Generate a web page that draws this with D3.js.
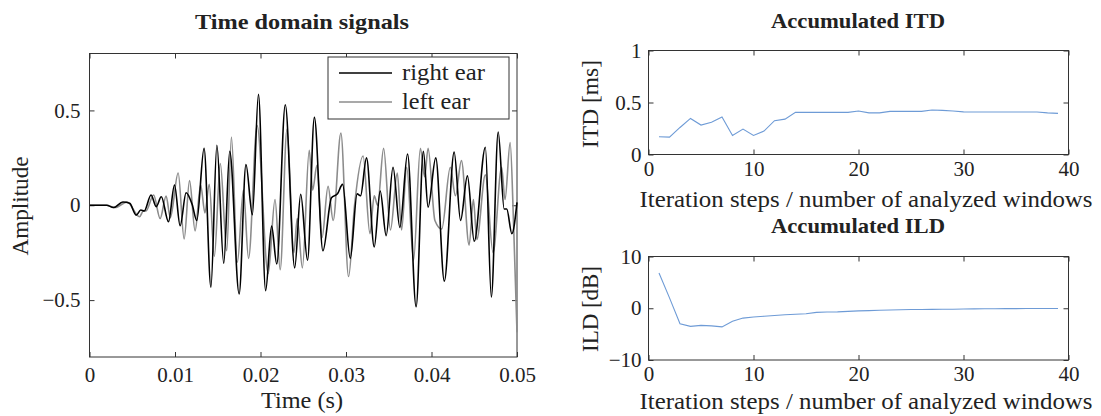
<!DOCTYPE html>
<html><head><meta charset="utf-8">
<script src="https://cdn.jsdelivr.net/npm/d3@7"></script>
<style>
html,body{margin:0;padding:0;background:#fff;}
svg text{font-family:"Liberation Serif","DejaVu Serif",serif;fill:#222;}
</style></head>
<body><svg id="c" width="1101" height="416"></svg>
<script>
// ---- data ----
// Time domain signals (time in ms, amplitude)
const rightTime = [0,2.0,2.8,3.9,4.7,5.46,6.0,6.4,7.2,7.8,8.4,9.24,9.94,10.6,11.3,12.0,12.55,13.4,14.2,14.9,15.7,16.4,17.5,18.3,19.05,19.76,20.6,21.3,21.9,22.9,24.0,24.7,25.5,26.3,27.3,28.3,29.0,29.6,30.5,31.3,31.7,32.4,33.3,34.0,34.7,35.5,36.3,37.2,38.2,39.05,39.6,40.5,41.5,42.65,43.4,44.2,45.0,46.3,47.0,47.8,48.5,48.8,49.4,50.0];
const rightAmp  = [0,0,-0.012,0.017,0.01,-0.052,-0.025,-0.03,0.054,-0.007,0.045,-0.087,0.107,-0.108,0.066,0.005,-0.08,0.30,-0.432,0.316,-0.306,0.285,-0.467,0.215,-0.05,0.585,-0.45,-0.11,-0.31,0.53,-0.33,0.058,-0.29,0.463,-0.24,0.04,0.06,0.11,-0.28,0.06,0.05,0.25,-0.22,0.075,-0.16,0.20,-0.117,0.27,-0.535,0.285,-0.01,0.25,-0.40,0.28,-0.08,0.155,-0.19,0.306,-0.484,0.386,-0.02,-0.02,-0.15,0.015];
const leftTime = [0,2.0,3.0,4.4,5.85,6.3,6.6,7.5,8.26,8.96,9.45,10.37,11.07,11.7,12.35,13.0,13.5,14.0,14.6,15.3,16.05,16.6,17.3,18.0,18.6,19.6,20.9,21.7,22.3,23.1,23.9,24.3,24.9,25.7,26.1,26.6,27.2,27.9,28.5,29.4,30.3,31.0,32.0,32.8,33.3,33.7,34.4,35.2,36.0,36.5,37.1,37.9,38.7,39.2,39.6,40.4,41.2,42.2,42.8,43.5,44.4,44.9,45.3,46.3,47.2,48.2,48.6,49.2,49.6,50.0];
const leftAmp  = [0,0,-0.012,0.017,-0.061,-0.03,-0.03,0.054,-0.07,0.049,-0.065,0.17,-0.178,0.13,-0.135,0.107,-0.04,0.11,-0.27,0.22,-0.24,0.36,-0.30,0.08,-0.28,0.42,-0.36,0.03,-0.34,0.40,-0.25,-0.07,-0.33,0.29,0.08,0.21,-0.17,0.10,-0.08,0.38,-0.376,0.0,0.26,-0.15,0.05,0.0,0.30,-0.13,0.17,-0.13,0.20,-0.29,0.30,0.15,0.30,-0.08,-0.125,0.20,0.05,0.235,-0.21,0.03,-0.18,0.16,-0.25,0.20,0.03,0.33,-0.1,-0.67];
// Accumulated ITD / ILD per iteration step
const steps = d3.range(1,40);
const itdValues = [0.17,0.167,0.26,0.347,0.283,0.31,0.36,0.183,0.244,0.183,0.225,0.325,0.34,0.405,0.405,0.405,0.405,0.405,0.405,0.418,0.40,0.40,0.415,0.415,0.415,0.415,0.428,0.424,0.418,0.41,0.408,0.408,0.408,0.408,0.408,0.408,0.408,0.40,0.395];
const ildValues = [6.8,2.0,-3.0,-3.5,-3.3,-3.4,-3.6,-2.5,-1.9,-1.7,-1.55,-1.4,-1.25,-1.15,-1.05,-0.8,-0.72,-0.7,-0.6,-0.5,-0.45,-0.4,-0.35,-0.3,-0.25,-0.25,-0.22,-0.2,-0.18,-0.15,-0.12,-0.1,-0.1,-0.08,-0.08,-0.06,-0.06,-0.05,-0.05];
const timeTicks = [0,0.01,0.02,0.03,0.04,0.05];
const ampTicks = [-0.5,0,0.5];
const stepTicks = [0,10,20,30,40];
const itdTicks = [0,0.5,1];
const ildTicks = [-10,0,10];
const legendLabels = ["right ear","left ear"];

const svg = d3.select("#c");
const FS = 21;
const frameColor = "#333";

function fitText(sel, w){
  sel.attr("textLength", w).attr("lengthAdjust","spacingAndGlyphs");
}

function panel(o){
  const g = svg.append("g");
  const x = d3.scaleLinear(o.xd,[o.l,o.r]);
  const y = d3.scaleLinear(o.yd,[o.b,o.t]);
  const tl = 5;
  const gb = g.append("g").attr("transform",`translate(0,${o.b})`)
    .call(d3.axisBottom(x).tickValues(o.xt).tickSizeInner(-tl).tickSizeOuter(0).tickPadding(o.xpad).tickFormat(o.xf));
  const gt = g.append("g").attr("transform",`translate(0,${o.t})`)
    .call(d3.axisTop(x).tickValues(o.xt).tickSizeInner(-tl).tickSizeOuter(0).tickFormat(""));
  const gl = g.append("g").attr("transform",`translate(${o.l},0)`)
    .call(d3.axisLeft(y).tickValues(o.yt).tickSizeInner(-tl).tickSizeOuter(0).tickPadding(o.ypad).tickFormat(o.yf));
  const gr = g.append("g").attr("transform",`translate(${o.r},0)`)
    .call(d3.axisRight(y).tickValues(o.yt).tickSizeInner(-tl).tickSizeOuter(0).tickFormat(""));
  [gb,gt,gl,gr].forEach(a=>{
    a.select(".domain").remove();
    a.selectAll("line").attr("stroke",frameColor);
    a.selectAll("text").attr("font-size",FS).attr("font-family",'"Liberation Serif",serif').attr("fill","#222");
  });
  gb.selectAll("text").attr("dy","0.72em");
  g.append("rect").attr("x",o.l).attr("y",o.t).attr("width",o.r-o.l).attr("height",o.b-o.t)
    .attr("fill","none").attr("stroke",frameColor).attr("stroke-width",1);
  fitText(svg.append("text").attr("x",o.titleX).attr("y",o.titleY).attr("text-anchor","middle")
    .attr("font-size",o.titleFS).attr("font-weight","bold").attr("fill","#111").text(o.title), o.titleW);
  fitText(svg.append("text").attr("x",o.xlX).attr("y",o.xlY).attr("text-anchor","middle")
    .attr("font-size",o.labFS).text(o.xlabel), o.xlW);
  fitText(svg.append("text").attr("transform",`translate(${o.ylX},${o.ylY}) rotate(-90)`).attr("text-anchor","middle")
    .attr("font-size",o.labFS).text(o.ylabel), o.ylW);
  return {g,x,y};
}

// Left panel
const L = panel({l:89.5,r:517,t:53.5,b:357,xd:[0,0.05],yd:[-0.8,0.8],xt:timeTicks,yt:ampTicks,
  xf:d=>d===0?"0":d3.format(".2f")(d), yf:d=>d===0?"0":d3.format(".1f")(d).replace("-","\u2212"),
  xpad:10, ypad:9, title:"Time domain signals", titleX:302, titleY:29, titleFS:22, titleW:214,
  xlabel:"Time (s)", xlX:302, xlY:408, xlW:82, ylabel:"Amplitude", ylX:28, ylY:206, ylW:99, labFS:24});
const lineL = d3.line().curve(d3.curveMonotoneX);
L.g.append("path").attr("d",lineL(leftTime.map((t,i)=>[L.x(t/1000),L.y(leftAmp[i])])))
  .attr("fill","none").attr("stroke","#8c8c8c").attr("stroke-width",1.6);
L.g.append("path").attr("d",lineL(rightTime.map((t,i)=>[L.x(t/1000),L.y(rightAmp[i])])))
  .attr("fill","none").attr("stroke","#000").attr("stroke-width",1.6);
// legend
const lg = svg.append("g");
lg.append("rect").attr("x",328).attr("y",57).attr("width",181).attr("height",62)
  .attr("fill","#fff").attr("stroke",frameColor).attr("stroke-width",1);
const legColors = ["#000","#8c8c8c"];
const legW = [83,68];
legendLabels.forEach((lab,i)=>{
  const yy = 73 + i*29;
  lg.append("line").attr("x1",339).attr("x2",392).attr("y1",yy).attr("y2",yy)
    .attr("stroke",legColors[i]).attr("stroke-width",1.6);
  fitText(lg.append("text").attr("x",402).attr("y",yy+7).attr("font-size",23).text(lab), legW[i]);
});

// ITD panel
const T = panel({l:648.5,r:1068.5,t:50.5,b:154.5,xd:[0,40],yd:[0,1],xt:stepTicks,yt:itdTicks,
  xf:d3.format("d"), yf:d=>d===0?"0":d===1?"1":d3.format(".1f")(d),
  xpad:6, ypad:7, title:"Accumulated ITD", titleX:858, titleY:28, titleFS:22, titleW:174,
  xlabel:"Iteration steps / number of analyzed windows", xlX:866, xlY:207, xlW:453,
  ylabel:"ITD [ms]", ylX:598, ylY:104, ylW:88, labFS:24});
const lineP = d3.line();
T.g.append("path").attr("d",lineP(steps.map((s,i)=>[T.x(s),T.y(itdValues[i])])))
  .attr("fill","none").attr("stroke","#6e9bd6").attr("stroke-width",1.1);

// ILD panel
const D = panel({l:648.5,r:1068.5,t:256.5,b:360,xd:[0,40],yd:[-10,10],xt:stepTicks,yt:ildTicks,
  xf:d3.format("d"), yf:d=>d3.format("d")(d).replace("-","\u2212"),
  xpad:6, ypad:7, title:"Accumulated ILD", titleX:858, titleY:233, titleFS:22, titleW:174,
  xlabel:"Iteration steps / number of analyzed windows", xlX:866, xlY:409, xlW:453,
  ylabel:"ILD [dB]", ylX:598, ylY:309, ylW:86, labFS:24});
D.g.append("path").attr("d",lineP(steps.map((s,i)=>[D.x(s),D.y(ildValues[i])])))
  .attr("fill","none").attr("stroke","#6e9bd6").attr("stroke-width",1.1);
</script></body></html>
